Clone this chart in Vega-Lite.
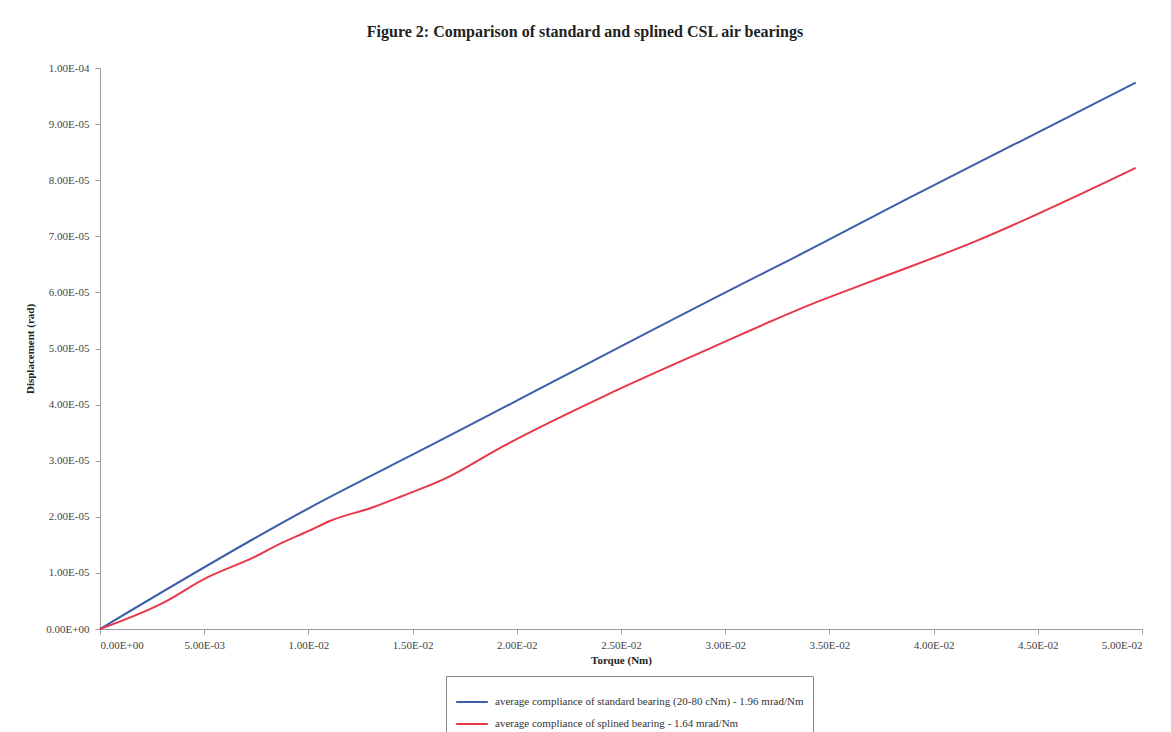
{
  "$schema": "https://vega.github.io/schema/vega-lite/v6.json",
  "autosize": {"type": "none"},
  "padding": {"left": 100, "top": 68, "right": 29, "bottom": 103},
  "width": 1042,
  "height": 561,
  "background": "white",
  "title": {
    "text": "Figure 2: Comparison of standard and splined CSL air bearings",
    "font": "Liberation Serif",
    "fontSize": 16,
    "fontWeight": "bold",
    "color": "#222",
    "anchor": "middle",
    "dx": -36,
    "offset": 22
  },
  "config": {
    "view": {"stroke": null},
    "axis": {
      "labelFont": "Liberation Serif",
      "labelFontSize": 11,
      "labelColor": "#444",
      "titleFont": "Liberation Serif",
      "titleFontSize": 11,
      "titleFontWeight": "bold",
      "titleColor": "#222",
      "domainColor": "#9a9aa8",
      "tickColor": "#9a9aa8",
      "grid": false
    }
  },
  "data": {
    "values": [
      {"series": "standard", "torque": 0, "disp": 0},
      {"series": "standard", "torque": 0.0101, "disp": 2.17e-5},
      {"series": "standard", "torque": 0.0157, "disp": 3.24e-5},
      {"series": "standard", "torque": 0.0316, "disp": 6.30e-5},
      {"series": "standard", "torque": 0.0331, "disp": 6.58e-5},
      {"series": "standard", "torque": 0.0388, "disp": 7.68e-5},
      {"series": "standard", "torque": 0.0497, "disp": 9.74e-5},
      {"series": "splined", "torque": 0, "disp": 0},
      {"series": "splined", "torque": 0.0030, "disp": 4.6e-6},
      {"series": "splined", "torque": 0.0051, "disp": 9.1e-6},
      {"series": "splined", "torque": 0.0074, "disp": 1.28e-5},
      {"series": "splined", "torque": 0.0087, "disp": 1.53e-5},
      {"series": "splined", "torque": 0.0102, "disp": 1.78e-5},
      {"series": "splined", "torque": 0.0110, "disp": 1.92e-5},
      {"series": "splined", "torque": 0.0131, "disp": 2.17e-5},
      {"series": "splined", "torque": 0.0145, "disp": 2.37e-5},
      {"series": "splined", "torque": 0.0165, "disp": 2.67e-5},
      {"series": "splined", "torque": 0.0194, "disp": 3.27e-5},
      {"series": "splined", "torque": 0.0243, "disp": 4.17e-5},
      {"series": "splined", "torque": 0.0292, "disp": 4.99e-5},
      {"series": "splined", "torque": 0.0340, "disp": 5.77e-5},
      {"series": "splined", "torque": 0.0371, "disp": 6.21e-5},
      {"series": "splined", "torque": 0.0420, "disp": 6.91e-5},
      {"series": "splined", "torque": 0.0497, "disp": 8.22e-5}
    ]
  },
  "mark": {"type": "line", "interpolate": "monotone", "strokeWidth": 2},
  "encoding": {
    "x": {
      "field": "torque",
      "type": "quantitative",
      "scale": {"domain": [0, 0.05], "nice": false},
      "axis": {
        "title": "Torque (Nm)",
        "values": [0, 0.005, 0.01, 0.015, 0.02, 0.025, 0.03, 0.035, 0.04, 0.045, 0.05],
        "labelExpr": "replace(replace(format(datum.value, '.2e'), 'e-', 'E-0'), 'e+', 'E+0')",
        "tickSize": 5,
        "labelPadding": 5,
        "titlePadding": 4
      }
    },
    "y": {
      "field": "disp",
      "type": "quantitative",
      "scale": {"domain": [0, 0.0001], "nice": false},
      "axis": {
        "title": "Displacement (rad)",
        "values": [0, 1e-5, 2e-5, 3e-5, 4e-5, 5e-5, 6e-5, 7e-5, 8e-5, 9e-5, 1e-4],
        "labelExpr": "replace(replace(format(datum.value, '.2e'), 'e-', 'E-0'), 'e+', 'E+0')",
        "tickSize": 5,
        "labelPadding": 6,
        "titlePadding": 10
      }
    },
    "color": {
      "field": "series",
      "type": "nominal",
      "scale": {
        "domain": ["standard", "splined"],
        "range": ["#3d5ea8", "#e8364c"]
      },
      "legend": {
        "title": null,
        "orient": "none",
        "legendX": 346,
        "legendY": 608,
        "direction": "vertical",
        "symbolType": "stroke",
        "symbolSize": 1000,
        "symbolStrokeWidth": 2,
        "labelFont": "Liberation Serif",
        "labelFontSize": 11,
        "labelColor": "#333",
        "labelLimit": 500,
        "labelOffset": 6,
        "strokeColor": "#888",
        "padding": 9,
        "rowPadding": -2,
        "labelExpr": "datum.value == 'standard' ? 'average compliance of standard bearing (20-80 cNm) - 1.96 mrad/Nm' : 'average compliance of splined bearing - 1.64 mrad/Nm'"
      }
    }
  }
}
